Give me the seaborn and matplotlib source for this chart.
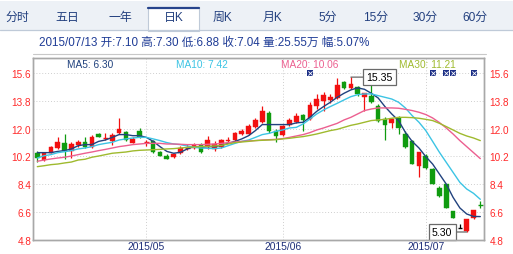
import matplotlib
matplotlib.use("Agg")
import matplotlib.pyplot as plt
import numpy as np
import pandas as pd
import seaborn as sns
from matplotlib.patches import Rectangle

sns.set_style("white")
plt.rcParams['font.family'] = ['Liberation Sans', 'Noto Sans CJK SC', 'DejaVu Sans']

# ---------------- data ----------------
tabs = ["分时", "五日", "一年", "日K", "周K", "月K", "5分", "15分", "30分", "60分"]
selected_tab = "日K"
header = "2015/07/13 开:7.10 高:7.30 低:6.88 收:7.04 量:25.55万 幅:5.07%"

opens = [10.45, 9.97, 10.45, 10.75, 11.05, 10.54, 10.95, 11.12, 10.79, 11.66,
         11.34, 11.18, 11.70, 11.77, 11.10, 11.83, 11.10, 11.18, 10.49, 10.23,
         10.17, 10.41, 10.73, 10.75, 10.95, 10.79, 10.69, 10.84, 11.18, 11.27,
         11.66, 11.66, 12.09, 12.42, 13.02, 11.83, 11.62, 12.27, 12.44, 12.87,
         12.63, 13.50, 13.78, 13.87, 14.00, 15.02, 14.62, 14.69, 14.08, 14.15,
         13.50, 12.63, 12.39, 12.70, 11.65, 11.18, 9.59, 10.24, 9.37, 8.14,
         8.40, 6.66, 5.57, 5.36, 6.22, 7.10]
highs = [10.53, 10.47, 10.88, 11.44, 11.66, 11.12, 11.27, 11.44, 11.57, 11.70,
         11.70, 11.70, 12.70, 11.83, 11.44, 12.05, 11.27, 11.27, 10.58, 10.36,
         10.45, 10.88, 11.01, 11.05, 11.05, 11.53, 11.18, 11.34, 11.44, 11.77,
         11.98, 12.31, 12.70, 13.50, 13.13, 11.98, 12.27, 12.70, 13.00, 12.96,
         13.72, 14.26, 14.37, 14.26, 15.30, 15.08, 15.35, 14.80, 14.35, 15.12,
         13.60, 12.74, 12.67, 12.85, 11.83, 11.26, 10.52, 10.35, 9.48, 8.29,
         8.44, 6.66, 5.85, 6.13, 6.74, 7.30]
lows = [9.82, 9.89, 10.41, 10.69, 10.04, 10.08, 10.79, 10.75, 10.73, 11.44,
        11.27, 10.97, 11.66, 11.18, 11.05, 11.40, 10.90, 10.41, 10.21, 10.02,
        10.10, 10.36, 10.62, 10.71, 10.41, 10.71, 10.58, 10.75, 11.05, 11.18,
        11.60, 11.60, 12.05, 12.35, 11.75, 11.12, 11.55, 12.20, 12.35, 11.83,
        12.57, 13.28, 13.18, 13.65, 13.91, 14.60, 14.56, 14.15, 13.17, 13.65,
        12.41, 11.26, 12.04, 11.65, 10.78, 9.70, 8.88, 9.37, 8.40, 7.57,
        6.84, 6.19, 5.57, 5.30, 6.15, 6.88]
closes = [10.12, 10.41, 10.79, 11.12, 10.58, 11.01, 11.16, 10.84, 11.44, 11.49,
          11.40, 11.60, 11.98, 11.27, 11.32, 11.44, 11.14, 10.47, 10.25, 10.06,
          10.38, 10.75, 10.79, 10.97, 10.47, 11.27, 11.01, 11.27, 11.27, 11.73,
          11.88, 12.20, 12.59, 13.18, 11.83, 11.55, 12.20, 12.57, 12.81, 12.59,
          13.57, 13.93, 14.21, 14.08, 14.86, 14.65, 14.91, 14.26, 14.30, 13.71,
          12.52, 12.26, 12.63, 12.04, 10.83, 9.74, 10.46, 9.44, 8.44, 7.64,
          6.88, 6.19, 5.57, 6.13, 6.70, 7.04]

ma5 = [10.45, 10.45, 10.45, 10.53, 10.58, 10.69, 10.90, 10.97, 10.97, 11.18,
       11.27, 11.44, 11.62, 11.62, 11.55, 11.55, 11.44, 11.18, 10.84, 10.53,
       10.41, 10.47, 10.69, 10.84, 10.79, 10.84, 10.84, 10.92, 11.05, 11.18,
       11.34, 11.55, 11.88, 12.27, 12.27, 12.27, 12.27, 12.27, 12.38, 12.42,
       12.74, 13.13, 13.44, 13.72, 14.04, 14.30, 14.52, 14.65, 14.56, 14.30,
       14.00, 13.44, 12.96, 12.53, 11.77, 11.18, 10.75, 10.19, 9.71, 9.06,
       8.41, 7.55, 6.86, 6.47, 6.31, 6.30]
ma10 = [10.10, 10.25, 10.32, 10.45, 10.51, 10.58, 10.69, 10.75, 10.84, 10.97,
        11.05, 11.12, 11.27, 11.34, 11.40, 11.44, 11.44, 11.34, 11.23, 11.10,
        11.01, 10.97, 10.88, 10.79, 10.75, 10.73, 10.71, 10.75, 10.90, 11.05,
        11.18, 11.27, 11.44, 11.62, 11.70, 11.83, 11.92, 12.05, 12.09, 12.31,
        12.63, 12.96, 13.22, 13.44, 13.65, 13.87, 14.08, 14.21, 14.26, 14.26,
        14.15, 14.04, 13.93, 13.72, 13.35, 12.85, 12.42, 11.88, 11.18, 10.47,
        9.82, 9.17, 8.52, 8.09, 7.81, 7.42]
ma20 = [9.89, 9.97, 10.04, 10.10, 10.15, 10.23, 10.32, 10.41, 10.49, 10.58,
        10.66, 10.75, 10.84, 10.90, 10.97, 11.01, 11.05, 11.05, 11.05, 11.01,
        11.01, 10.99, 10.97, 10.97, 10.97, 10.99, 11.01, 11.05, 11.10, 11.14,
        11.18, 11.21, 11.23, 11.27, 11.29, 11.31, 11.36, 11.44, 11.53, 11.62,
        11.75, 11.92, 12.05, 12.20, 12.35, 12.57, 12.74, 12.96, 13.18, 13.28,
        13.35, 13.35, 13.35, 13.33, 13.26, 13.18, 13.07, 12.92, 12.70, 12.40,
        12.05, 11.66, 11.23, 10.84, 10.45, 10.06]
ma30 = [9.54, 9.60, 9.67, 9.71, 9.78, 9.84, 9.97, 10.02, 10.15, 10.23,
        10.32, 10.41, 10.45, 10.49, 10.56, 10.60, 10.62, 10.64, 10.66, 10.69,
        10.71, 10.75, 10.79, 10.82, 10.84, 10.86, 10.88, 10.92, 11.01, 11.10,
        11.14, 11.18, 11.23, 11.25, 11.27, 11.29, 11.34, 11.38, 11.44, 11.49,
        11.57, 11.66, 11.77, 11.88, 11.96, 12.09, 12.22, 12.31, 12.42, 12.53,
        12.57, 12.61, 12.68, 12.74, 12.74, 12.72, 12.68, 12.61, 12.53, 12.35,
        12.14, 11.92, 11.70, 11.53, 11.40, 11.23]

ma_names = ["MA5", "MA10", "MA20", "MA30"]
ma_last = [6.30, 7.42, 10.06, 11.21]
month_labels = ["2015/05", "2015/06", "2015/07"]
month_idx = [16, 36, 57]
event_idx = [40, 58, 60, 61, 64]
yticks = [4.8, 6.6, 8.4, 10.2, 12.0, 13.8, 15.6]

# ---------------- styles ----------------
UP, DOWN, FLAT = "#f21010", "#0f9b0f", "#000000"
ma_colors = ["#21427e", "#3cc4e4", "#ec5f90", "#9fba2e"]
TICK_RED = "#ff2a2a"
NAVY = "#1e2f78"

W, H = 513, 255
fig = plt.figure(figsize=(W / 100, H / 100), dpi=100)
fig.patch.set_facecolor("white")

L, R, T, B = 33.3, 484.0, 59.0, 240.7
ax = fig.add_axes([L / W, 1 - B / H, (R - L) / W, (B - T) / H])

df = pd.DataFrame({"i": np.arange(len(closes)), "open": opens, "high": highs,
                   "low": lows, "close": closes,
                   "MA5": ma5, "MA10": ma10, "MA20": ma20, "MA30": ma30})

# grid
for y in yticks[1:]:
    ax.axhline(y, color="#cfcfcf", lw=0.7, ls=(0, (1, 2)), zorder=0)
for m in month_idx:
    ax.axvline(m, color="#cfcfcf", lw=0.7, ls=(0, (1, 2)), zorder=0)

# candles
for r in df.itertuples():
    col = UP if r.close > r.open else (DOWN if r.close < r.open else FLAT)
    ax.vlines(r.i, r.low, r.high, color=col, lw=0.9, zorder=2)
    h = abs(r.close - r.open)
    if h < 0.08:
        ax.hlines((r.open + r.close) / 2, r.i - 0.34, r.i + 0.34, color=col, lw=1.0, zorder=2)
    else:
        ax.bar(r.i, h, bottom=min(r.open, r.close), width=0.68, color=col,
               edgecolor=col, lw=0.3, zorder=2)

# moving averages
for name, c in zip(ma_names, ma_colors):
    sns.lineplot(data=df, x="i", y=name, color=c, lw=1.0, ax=ax, zorder=3)

# event markers
ev_y = [yticks[-1]] * len(event_idx)
ax.scatter(event_idx, ev_y, marker="s", s=16, color="#1c2f86", zorder=4, linewidths=0)
ax.scatter(event_idx, ev_y, marker="x", s=9, color="white", zorder=5, linewidths=0.6)

# max / min annotations
imax = int(np.argmax(highs))
imin = int(np.argmin(lows))
ax.annotate(f"{highs[imax]:.2f}", xy=(imax, highs[imax]), xytext=(imax + 2.3, highs[imax]),
            ha="left", va="center", fontsize=7.6, color="black", zorder=6,
            bbox=dict(boxstyle="square,pad=0.3", fc="white", ec="#6a6a6a", lw=0.9),
            arrowprops=dict(arrowstyle="-", color="#555555", lw=0.8, shrinkA=0, shrinkB=0))
ax.annotate(f"{lows[imin]:.2f}", xy=(imin, lows[imin]), xytext=(imin - 2.1, lows[imin]),
            ha="right", va="center", fontsize=7.6, color="black", zorder=6,
            bbox=dict(boxstyle="square,pad=0.3", fc="white", ec="#6a6a6a", lw=0.9),
            arrowprops=dict(arrowstyle="-", color="#555555", lw=0.8, shrinkA=0, shrinkB=0))

ax.set_xlim(-0.59, len(closes) - 1 + 0.54)
ax.set_ylim(4.8, 16.59)
ax.set_xlabel("")
ax.set_ylabel("")
ax.set_xticks(month_idx)
ax.set_xticklabels(month_labels, color=NAVY, fontsize=7.4)
ax.set_yticks(yticks)
ax.set_yticklabels([f"{v:.1f}" for v in yticks], color=TICK_RED, fontsize=7.2)
ax.tick_params(axis="x", length=0, pad=1.2)
ax.tick_params(axis="y", length=0, pad=1.5)
ax2 = ax.twinx()
ax2.set_ylim(ax.get_ylim())
ax2.set_yticks(yticks)
ax2.set_yticklabels([f"{v:.1f}" for v in yticks], color=TICK_RED, fontsize=7.2)
ax2.tick_params(axis="y", length=0, pad=4)
for a in (ax, ax2):
    for s in a.spines.values():
        s.set_color("#a8a8a8")
        s.set_linewidth(1.0)

# ---------------- overlay (tabs, header, MA labels) ----------------
ov = fig.add_axes([0, 0, 1, 1])
ov.set_xlim(0, W)
ov.set_ylim(H, 0)
ov.axis("off")
ov.patch.set_alpha(0)

ov.add_patch(Rectangle((0, 2), W, 29, fc="#edf1f6", ec="none"))
ov.plot([0, W], [31, 31], color="#bfcad8", lw=0.9)
tab_x = [17, 67, 120, 174, 222, 273, 328, 376, 425, 475]
for t, x in zip(tabs, tab_x):
    if t == selected_tab:
        ov.add_patch(Rectangle((148, 8), 51, 24, fc="white", ec="#bfcad8", lw=0.8))
        ov.plot([148, 199], [8.5, 8.5], color="#27448c", lw=1.6)
    ov.text(x, 18, t, ha="center", va="center", fontsize=8.6, color="#23407f")

ov.text(39, 43, header, ha="left", va="center", fontsize=8.4, color="#1f3c96")
ov.plot([33, 486], [54.5, 54.5], color="#c8c8c8", lw=0.8)

ma_lx = [67, 176, 281, 399]
for n, v, c, x in zip(ma_names, ma_last, ma_colors, ma_lx):
    ov.text(x, 65.5, f"{n}: {v:.2f}", ha="left", va="center", fontsize=7.3, color=c)

fig.savefig("out.png", dpi=100)
